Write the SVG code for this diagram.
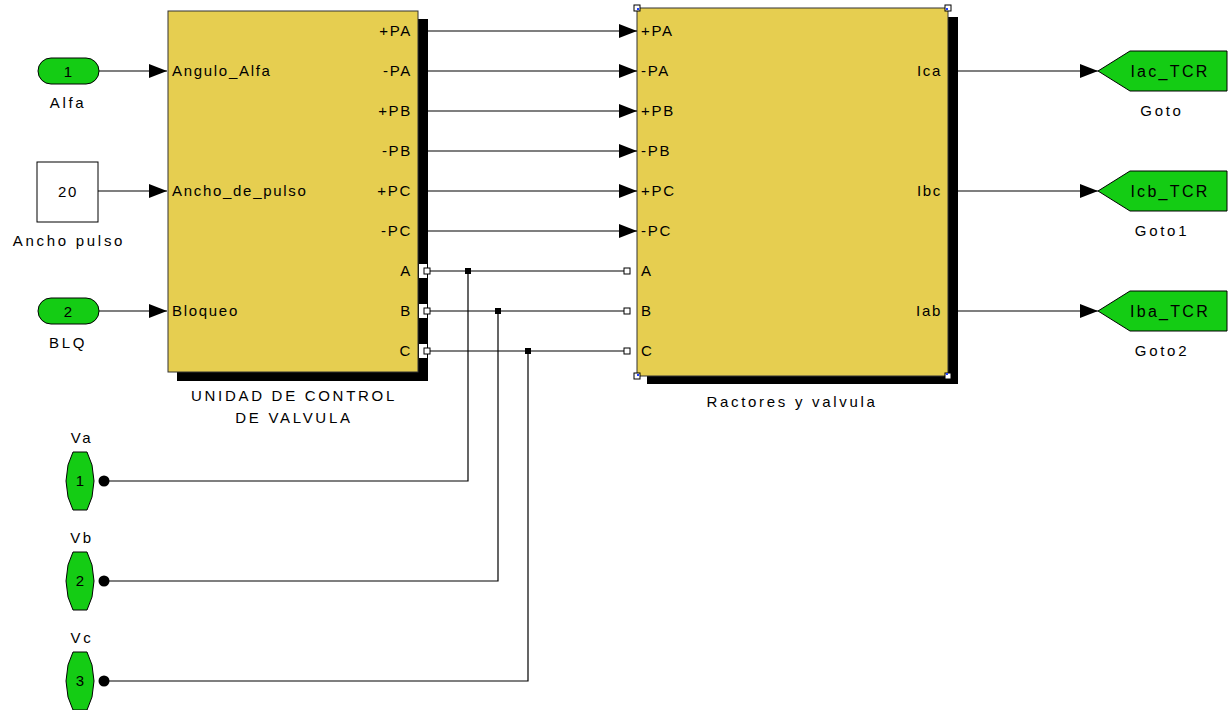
<svg xmlns="http://www.w3.org/2000/svg" width="1228" height="710" viewBox="0 0 1228 710">
<style>
text{font-family:"Liberation Sans",Arial,sans-serif;font-size:15px;fill:#000}
.p{letter-spacing:1.7px}
.lb{letter-spacing:2.7px}
.g{font-size:16px;letter-spacing:2.3px}
.blk{fill:#E6CE50;stroke:#333;stroke-width:1}
.sh{fill:#000}
.gr{fill:#14CC14;stroke:#000;stroke-width:1}
.ln{stroke:#000;stroke-width:1.2;fill:none}
.pt{fill:#fff;stroke:#000;stroke-width:1}
.mid{text-anchor:middle}
.end{text-anchor:end}
</style>
<defs>
<marker id="ar" markerWidth="18" markerHeight="14" refX="18" refY="7" orient="auto" markerUnits="userSpaceOnUse">
<path d="M0,0 L18,7 L0,14 Z" fill="#000"/>
</marker>
</defs>

<g id="in1">
<rect x="38" y="58" width="61" height="26" rx="13" class="gr"/>
<text x="68" y="77" class="mid">1</text>
<text x="68" y="108" class="mid lb">Alfa</text>
</g>
<g id="const20">
<rect x="37" y="162" width="61" height="60" fill="#fff" stroke="#000"/>
<text x="68" y="197" class="mid p">20</text>
<text x="69" y="246" class="mid lb">Ancho pulso</text>
</g>
<g id="in2">
<rect x="38" y="298" width="61" height="26" rx="13" class="gr"/>
<text x="68" y="317" class="mid">2</text>
<text x="68" y="348" class="mid lb">BLQ</text>
</g>

<g id="ucv">
<rect x="177" y="19" width="251" height="362" class="sh"/>
<rect x="168" y="11" width="250" height="361" class="blk"/>
<rect x="419" y="264" width="8" height="14" fill="#fff"/>
<rect x="419" y="304" width="8" height="14" fill="#fff"/>
<rect x="419" y="344" width="8" height="14" fill="#fff"/>
<text x="172" y="76" class="p">Angulo_Alfa</text>
<text x="172" y="196" class="p">Ancho_de_pulso</text>
<text x="172" y="316" class="p">Bloqueo</text>
<text x="412" y="36" class="end p">+PA</text>
<text x="412" y="76" class="end p">-PA</text>
<text x="412" y="116" class="end p">+PB</text>
<text x="412" y="156" class="end p">-PB</text>
<text x="412" y="196" class="end p">+PC</text>
<text x="412" y="236" class="end p">-PC</text>
<text x="412" y="276" class="end p">A</text>
<text x="412" y="316" class="end p">B</text>
<text x="412" y="356" class="end p">C</text>
<rect x="424" y="268" width="6" height="6" class="pt"/>
<rect x="424" y="308" width="6" height="6" class="pt"/>
<rect x="424" y="348" width="6" height="6" class="pt"/>
<text x="294" y="401" class="mid lb">UNIDAD DE CONTROL</text>
<text x="294" y="423" class="mid lb">DE VALVULA</text>
</g>

<g id="rv">
<rect x="647" y="17" width="311" height="367" class="sh"/>
<rect x="637" y="8" width="311" height="368" class="blk"/>
<text x="641" y="36" class="p">+PA</text>
<text x="641" y="76" class="p">-PA</text>
<text x="641" y="116" class="p">+PB</text>
<text x="641" y="156" class="p">-PB</text>
<text x="641" y="196" class="p">+PC</text>
<text x="641" y="236" class="p">-PC</text>
<text x="641" y="276" class="p">A</text>
<text x="641" y="316" class="p">B</text>
<text x="641" y="356" class="p">C</text>
<text x="942" y="76" class="end p">Ica</text>
<text x="942" y="196" class="end p">Ibc</text>
<text x="942" y="316" class="end p">Iab</text>
<rect x="624" y="268" width="6" height="6" class="pt"/>
<rect x="624" y="308" width="6" height="6" class="pt"/>
<rect x="624" y="348" width="6" height="6" class="pt"/>
<rect x="634" y="5" width="6" height="6" fill="#fff" stroke="#000"/>
<rect x="945" y="5" width="6" height="6" fill="#fff" stroke="#000"/>
<rect x="634" y="373" width="6" height="6" fill="#fff" stroke="#000"/>
<rect x="945" y="373" width="6" height="6" fill="#fff" stroke="#000"/>
<rect x="637" y="8" width="2" height="2" fill="#2040ff"/>
<rect x="946" y="8" width="2" height="2" fill="#2040ff"/>
<rect x="637" y="374" width="2" height="2" fill="#2040ff"/>
<rect x="946" y="373" width="2" height="2" fill="#2040ff"/>
<text x="792" y="407" class="mid lb">Ractores y valvula</text>
</g>

<g id="goto">
<polygon points="1098,71 1130,51 1227,51 1227,91 1130,91" class="gr"/>
<text x="1170" y="77" class="mid g">Iac_TCR</text>
<text x="1162" y="116" class="mid lb">Goto</text>
</g>
<g id="goto1">
<polygon points="1098,191 1130,171 1227,171 1227,211 1130,211" class="gr"/>
<text x="1170" y="197" class="mid g">Icb_TCR</text>
<text x="1162" y="236" class="mid lb">Goto1</text>
</g>
<g id="goto2">
<polygon points="1098,311 1130,291 1227,291 1227,331 1130,331" class="gr"/>
<text x="1170" y="317" class="mid g">Iba_TCR</text>
<text x="1162" y="356" class="mid lb">Goto2</text>
</g>

<g id="va">
<text x="82" y="443" class="mid lb">Va</text>
<polygon points="73,452 87,452 92,465 94,481 92,497 87,510 73,510 68,497 66,481 68,465" class="gr"/>
<text x="80" y="486" class="mid">1</text>
<circle cx="104" cy="481" r="5.5" fill="#000"/>
</g>
<g id="vb">
<text x="82" y="543" class="mid lb">Vb</text>
<polygon points="73,552 87,552 92,565 94,581 92,597 87,610 73,610 68,597 66,581 68,565" class="gr"/>
<text x="80" y="586" class="mid">2</text>
<circle cx="104" cy="581" r="5.5" fill="#000"/>
</g>
<g id="vc">
<text x="82" y="643" class="mid lb">Vc</text>
<polygon points="73,652 87,652 92,665 94,681 92,697 87,710 73,710 68,697 66,681 68,665" class="gr"/>
<text x="80" y="686" class="mid">3</text>
<circle cx="104" cy="681" r="5.5" fill="#000"/>
</g>

<g id="connectors">
<line x1="99" y1="71" x2="167" y2="71" class="ln" marker-end="url(#ar)"/>
<line x1="98" y1="191" x2="167" y2="191" class="ln" marker-end="url(#ar)"/>
<line x1="99" y1="311" x2="167" y2="311" class="ln" marker-end="url(#ar)"/>
<line x1="428" y1="31" x2="637" y2="31" class="ln" marker-end="url(#ar)"/>
<line x1="428" y1="71" x2="637" y2="71" class="ln" marker-end="url(#ar)"/>
<line x1="428" y1="111" x2="637" y2="111" class="ln" marker-end="url(#ar)"/>
<line x1="428" y1="151" x2="637" y2="151" class="ln" marker-end="url(#ar)"/>
<line x1="428" y1="191" x2="637" y2="191" class="ln" marker-end="url(#ar)"/>
<line x1="428" y1="231" x2="637" y2="231" class="ln" marker-end="url(#ar)"/>
<line x1="958" y1="71" x2="1098" y2="71" class="ln" marker-end="url(#ar)"/>
<line x1="958" y1="191" x2="1098" y2="191" class="ln" marker-end="url(#ar)"/>
<line x1="958" y1="311" x2="1098" y2="311" class="ln" marker-end="url(#ar)"/>
<line x1="430" y1="271" x2="624" y2="271" class="ln"/>
<line x1="430" y1="311" x2="624" y2="311" class="ln"/>
<line x1="430" y1="351" x2="624" y2="351" class="ln"/>
<polyline points="468,271 468,481 104,481" class="ln"/>
<polyline points="498,311 498,581 104,581" class="ln"/>
<polyline points="528,351 528,681 104,681" class="ln"/>
<rect x="465" y="268" width="6" height="6" fill="#000"/>
<rect x="495" y="308" width="6" height="6" fill="#000"/>
<rect x="525" y="348" width="6" height="6" fill="#000"/>
</g>
</svg>
